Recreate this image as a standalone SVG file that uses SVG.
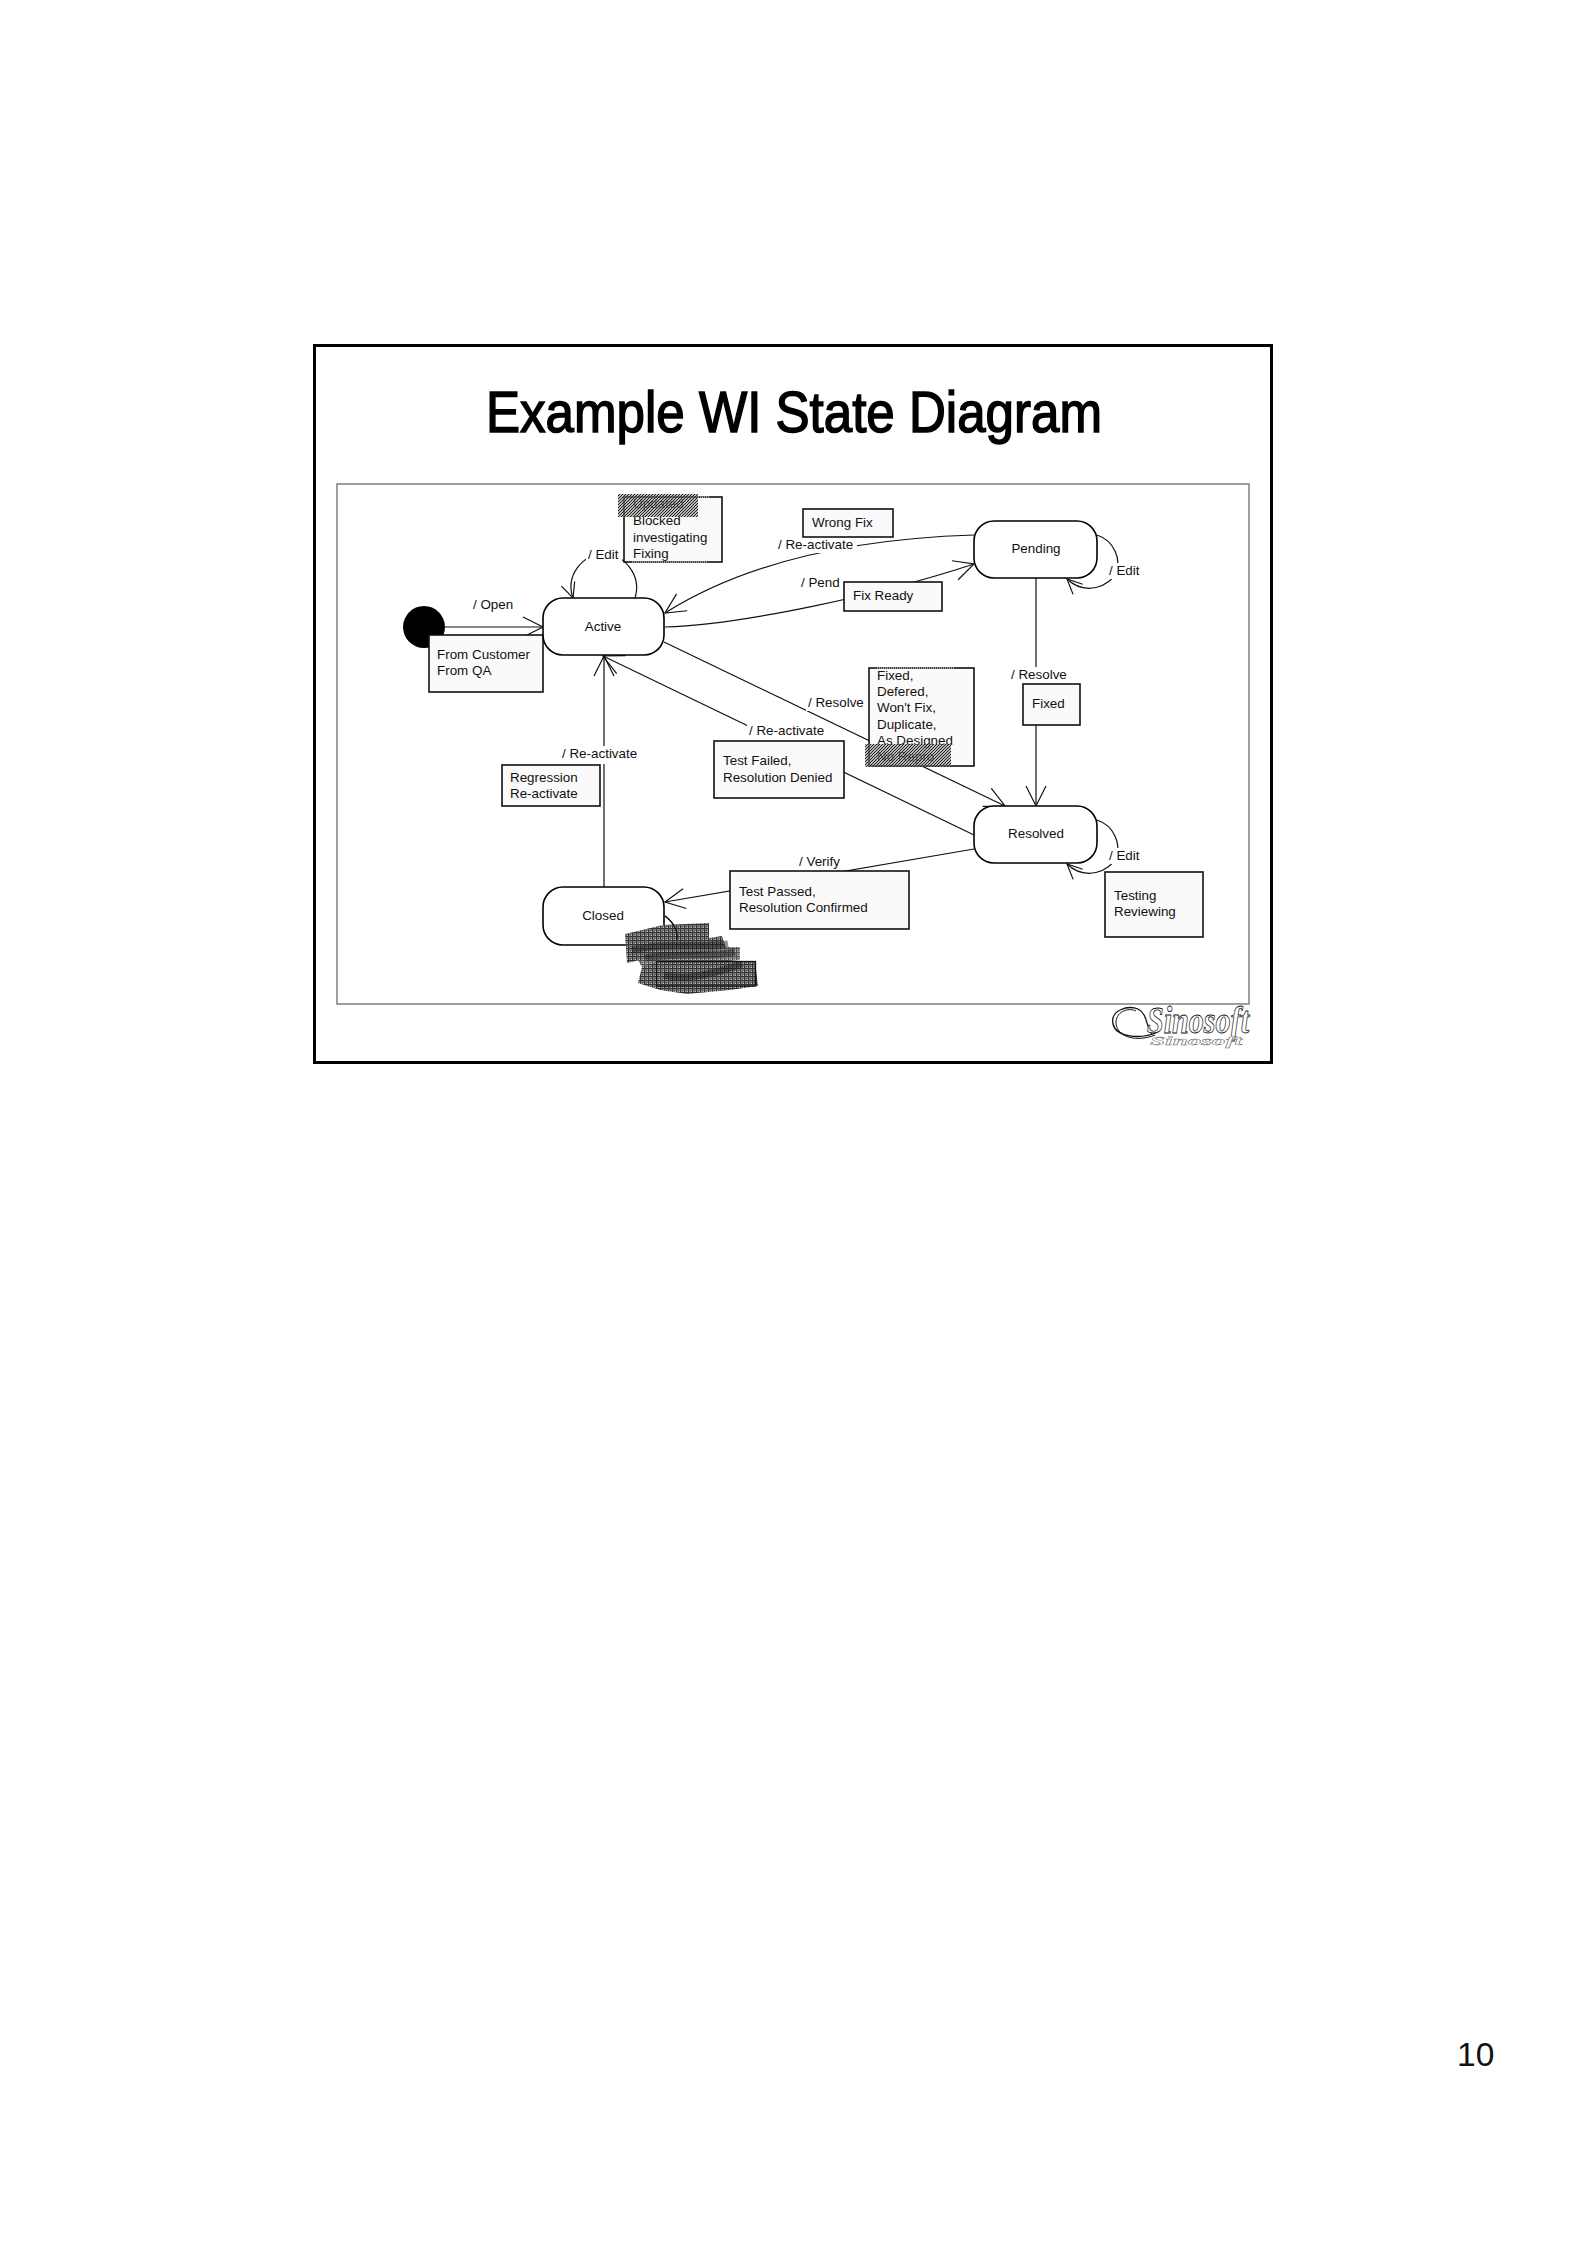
<svg xmlns="http://www.w3.org/2000/svg" width="1587" height="2245" viewBox="0 0 1587 2245">
<style>
text{font-family:"Liberation Sans",Arial,sans-serif;font-size:13.4px;fill:#111}
.state{fill:#fff;stroke:#000;stroke-width:1.6}
.note{fill:#fafafa;stroke:#111;stroke-width:1.6}
.edge{fill:none;stroke:#111;stroke-width:1.2}
.bg{fill:#fff;stroke:none}
.mid{text-anchor:middle}
.fade{fill:none;stroke:#bbb;stroke-width:1.6;stroke-dasharray:1 1}
</style>
<defs>
<marker id="head" markerUnits="userSpaceOnUse" markerWidth="50" markerHeight="50" refX="25" refY="25" orient="auto" overflow="visible"><path d="M5 15L25 25L5 35" fill="none" stroke="#111" stroke-width="1.2"/></marker>
<marker id="small" markerUnits="userSpaceOnUse" markerWidth="50" markerHeight="50" refX="25" refY="25" orient="auto" overflow="visible"><path d="M10 18L25 25L10 32" fill="none" stroke="#111" stroke-width="1.2"/></marker>
<pattern id="scrub" width="3" height="3" patternUnits="userSpaceOnUse"><rect width="3" height="3" fill="#888" fill-opacity=".6"/><rect width="1" height="1" fill="#222"/><rect x="2" y="1" width="1" height="1" fill="#222"/><rect x="1" y="2" width="1" height="1" fill="#222"/></pattern>
<pattern id="scrubgrid" width="4" height="4" patternUnits="userSpaceOnUse"><rect width="4" height="4" fill="#808080"/><rect width="4" height="1" fill="#333"/><rect width="1" height="4" fill="#333"/><rect x="2" y="2" width="1" height="1" fill="#444"/><rect x="3" y="3" width="1" height="1" fill="#bbb"/></pattern>
</defs>
<rect width="1587" height="2245" fill="#fff"/>
<rect id="slide-frame" x="314.5" y="345.5" width="957" height="717" fill="#fff" stroke="#000" stroke-width="3"/>
<text id="title" x="486" y="432" textLength="616" lengthAdjust="spacingAndGlyphs" style="font-size:57px;fill:#000;stroke:#000;stroke-width:1.5">Example WI State Diagram</text>
<rect id="diagram-frame" x="337" y="484" width="912" height="520" fill="#fff" stroke="#777" stroke-width="1.4"/>

<g id="connectors">
<path class="edge" d="M445 627H543" marker-end="url(#head)"/>
<path class="edge" d="M635 598C642 575 624 554 604 554C583 554 565 575 573 598" marker-end="url(#small)"/>
<path class="edge" d="M974 535C880 538 760 553 665 613" marker-end="url(#head)"/>
<path class="edge" d="M665 627C740 625 880 595 974 564" marker-end="url(#head)"/>
<path class="edge" d="M664 642L1005 806" marker-end="url(#head)"/>
<path class="edge" d="M974 835L603 656" marker-end="url(#head)"/>
<path class="edge" d="M604 887V656" marker-end="url(#head)"/>
<path class="edge" d="M1036 578V806" marker-end="url(#head)"/>
<path class="edge" d="M1097 535C1115 541 1121 560 1116 572C1110 587 1085 596 1067 579" marker-end="url(#small)"/>
<path class="edge" d="M1097 820C1115 826 1121 845 1116 857C1110 872 1085 881 1067 864" marker-end="url(#small)"/>
<path class="edge" d="M974 849L665 902" marker-end="url(#head)"/>
<path class="edge" d="M665 916C673 922 678 930 677 940"/>
</g>

<g id="edge-labels">
<rect class="bg" x="471" y="596" width="58" height="17"/><text x="473" y="609">/ Open</text>
<rect class="bg" x="586" y="547" width="36" height="16"/><text x="588" y="559">/ Edit</text>
<rect class="bg" x="776" y="537" width="81" height="16"/><text x="778" y="549">/ Re-activate</text>
<rect class="bg" x="799" y="575" width="45" height="16"/><text x="801" y="587">/ Pend</text>
<rect class="bg" x="1107" y="563" width="36" height="16"/><text x="1109" y="575">/ Edit</text>
<rect class="bg" x="1107" y="848" width="36" height="16"/><text x="1109" y="860">/ Edit</text>
<rect class="bg" x="1009" y="667" width="60" height="17"/><text x="1011" y="679">/ Resolve</text>
<rect class="bg" x="806" y="695" width="62" height="16"/><text x="808" y="707">/ Resolve</text>
<rect class="bg" x="747" y="723" width="82" height="18"/><text x="749" y="735">/ Re-activate</text>
<rect class="bg" x="560" y="746" width="81" height="18"/><text x="562" y="758">/ Re-activate</text>
<rect class="bg" x="797" y="854" width="46" height="16"/><text x="799" y="866">/ Verify</text>
</g>

<g id="initial"><circle cx="424" cy="627" r="21" fill="#000"/></g>
<g id="note-from"><rect class="note" x="429" y="635" width="114" height="57"/><text x="437" y="659">From Customer</text><text x="437" y="675">From QA</text></g>
<g id="note-edit"><rect class="note" x="624" y="497" width="98" height="65"/><path class="fade" d="M698 497H709M632 562H708"/><text x="633" y="508">Updated</text><text x="633" y="525">Blocked</text><text x="633" y="542">investigating</text><text x="633" y="558">Fixing</text></g>
<g id="note-wrongfix"><rect class="note" x="803" y="509" width="90" height="28"/><text x="812" y="527">Wrong Fix</text></g>
<g id="note-fixready"><rect class="note" x="844" y="582" width="98" height="29"/><text x="853" y="600">Fix Ready</text></g>
<g id="note-resolutions"><rect class="note" x="869" y="668" width="105" height="98"/><path class="fade" d="M877 668H954"/><text x="877" y="680">Fixed,</text><text x="877" y="696">Defered,</text><text x="877" y="712">Won't Fix,</text><text x="877" y="729">Duplicate,</text><text x="877" y="745">As Designed</text><text x="877" y="761">No Repro</text></g>
<g id="note-fixed"><rect class="note" x="1023" y="684" width="57" height="41"/><text x="1032" y="708">Fixed</text></g>
<g id="note-failed"><rect class="note" x="714" y="741" width="130" height="57"/><text x="723" y="765">Test Failed,</text><text x="723" y="782">Resolution Denied</text></g>
<g id="note-regression"><rect class="note" x="502" y="765" width="98" height="41"/><text x="510" y="782">Regression</text><text x="510" y="798">Re-activate</text></g>
<g id="note-passed"><rect class="note" x="730" y="871" width="179" height="58"/><text x="739" y="896">Test Passed,</text><text x="739" y="912">Resolution Confirmed</text></g>
<g id="note-testing"><rect class="note" x="1105" y="872" width="98" height="65"/><text x="1114" y="900">Testing</text><text x="1114" y="916">Reviewing</text></g>

<g id="active"><rect class="state" x="543" y="598" width="121" height="57" rx="20"/><text class="mid" x="603" y="631">Active</text></g>
<g id="pending"><rect class="state" x="974" y="521" width="123" height="57" rx="20"/><text class="mid" x="1036" y="553">Pending</text></g>
<g id="resolved"><rect class="state" x="974" y="806" width="123" height="57" rx="20"/><text class="mid" x="1036" y="838">Resolved</text></g>
<g id="closed"><rect class="state" x="543" y="887" width="121" height="58" rx="20"/><text class="mid" x="603" y="920">Closed</text></g>

<g id="redactions">
<rect x="618" y="494" width="80" height="23" fill="url(#scrub)"/>
<rect x="865" y="744" width="86" height="23" fill="url(#scrub)"/>
<path d="M625 934L663 925L709 923V938L722 936L726 948L700 954L653 957L627 963Z" fill="url(#scrubgrid)"/>
<path d="M630 947L663 943L726 947H740V960L697 964L642 967Z" fill="url(#scrubgrid)" opacity=".85"/>
<path d="M642 967L657 962L755 961L758 986L730 990L687 994L660 990L638 983Z" fill="url(#scrubgrid)"/>
<path d="M632 950C665 942 700 948 728 944M645 958C680 952 710 958 735 952M664 975C690 982 725 970 742 964" fill="none" stroke="#111" stroke-width="7" stroke-opacity=".45"/>
<rect x="656.500" y="961.500" width="99" height="24.500" fill="none" stroke="#111" stroke-width="1.300"/>
<path d="M665 916C673 922 678 930 677 940" fill="none" stroke="#111" stroke-width="1.200"/>
</g>

<g id="logo">
<path d="M1158 1032C1140 1040 1116 1037 1113 1024C1110 1010 1128 1005 1138 1009C1148 1014 1146 1028 1152 1034" fill="none" stroke="#111" stroke-width="1.300"/>
<path d="M1155 1035C1138 1042 1118 1038 1116 1024C1115 1012 1128 1007 1136 1011" fill="none" stroke="#111" stroke-width="1"/>
<text x="1147" y="1033" textLength="102" lengthAdjust="spacingAndGlyphs" style="font-family:'Liberation Serif',serif;font-style:italic;font-weight:700;font-size:37px;fill:#fff;stroke:#111;stroke-width:.8">Sinosoft</text>
<text transform="translate(1150 1045) scale(1 .38)" x="0" y="0" textLength="92" lengthAdjust="spacingAndGlyphs" style="font-family:'Liberation Serif',serif;font-style:italic;font-weight:700;font-size:34px;fill:#fff;stroke:#666;stroke-width:1">Sinosoft</text>
</g>

<text id="page-number" x="1457" y="2066" style="font-size:33.500px;fill:#111">10</text>
</svg>
